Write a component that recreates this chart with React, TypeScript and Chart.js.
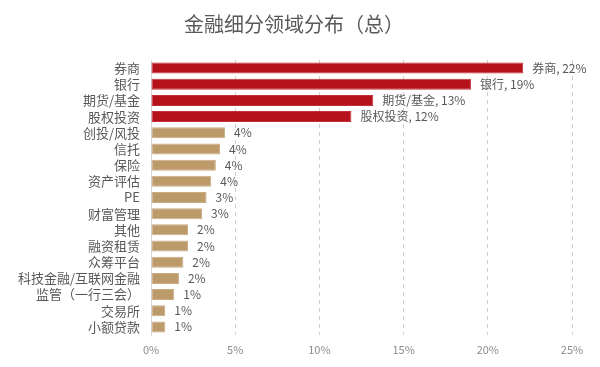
import React, { useEffect, useRef } from "react";
import { Chart, registerables } from "chart.js";

Chart.register(...registerables);

const categories = [
  "券商", "银行", "期货/基金", "股权投资", "创投/风投", "信托", "保险", "资产评估", "PE",
  "财富管理", "其他", "融资租赁", "众筹平台", "科技金融/互联网金融", "监管（一行三会）", "交易所", "小额贷款",
];
const values = [22.1, 19.0, 13.2, 11.9, 4.4, 4.1, 3.85, 3.58, 3.3, 3.03, 2.2, 2.2, 1.92, 1.66, 1.38, 0.85, 0.85];
const labelPercents = [22, 19, 13, 12, 4, 4, 4, 4, 3, 3, 2, 2, 2, 2, 1, 1, 1];
const namedLabelCount = 4;
const xTicks = [0, 5, 10, 15, 20, 25];
const titleText = "金融细分领域分布（总）";

const RED = "#B5121B";
const TAN = "#BC9A6A";
const FONT = "'Noto Sans CJK SC', 'Noto Sans', sans-serif";

export default function App() {
  const ref = useRef<HTMLCanvasElement | null>(null);
  useEffect(() => {
    document.body.style.margin = "0";
    const canvas = ref.current;
    if (!canvas) return;
    const labelPlugin = {
      id: "barLabels",
      afterDatasetsDraw(chart: any) {
        const ctx = chart.ctx;
        const meta = chart.getDatasetMeta(0);
        ctx.save();
        ctx.font = `12px ${FONT}`;
        ctx.fillStyle = "#595959";
        ctx.textAlign = "left";
        ctx.textBaseline = "middle";
        meta.data.forEach((bar: any, i: number) => {
          const txt = i < namedLabelCount ? `${categories[i]}, ${labelPercents[i]}%` : `${labelPercents[i]}%`;
          ctx.fillText(txt, bar.x + 9, bar.y);
        });
        ctx.restore();
      },
      afterDraw(chart: any) {
        const ctx = chart.ctx;
        ctx.save();
        ctx.font = `20px ${FONT}`;
        ctx.fillStyle = "#595959";
        ctx.textAlign = "center";
        ctx.textBaseline = "middle";
        ctx.fillText(titleText, 294, 24);
        ctx.restore();
      },
    };
    const chart = new Chart(canvas, {
      type: "bar",
      data: {
        labels: categories,
        datasets: [
          {
            data: values,
            backgroundColor: values.map((_, i) => (i < namedLabelCount ? RED : TAN)),
            borderColor: values.map((_, i) => (i < namedLabelCount ? "#C4303A" : "#C9AD85")),
            borderWidth: 1,
            borderSkipped: false,
            barPercentage: 0.68,
            categoryPercentage: 1,
          },
        ],
      },
      options: {
        indexAxis: "y",
        animation: false,
        responsive: false,
        maintainAspectRatio: false,
        layout: { padding: { top: 60, right: 28, bottom: 7, left: 0 } },
        plugins: {
          legend: { display: false },
          title: { display: false },
          tooltip: { enabled: false },
        },
        scales: {
          x: {
            min: 0,
            max: 25,
            afterBuildTicks(scale: any) {
              scale.ticks = xTicks.map((v) => ({ value: v }));
            },
            afterFit(scale: any) {
              scale.height = 25;
            },
            ticks: {
              padding: 8,
              color: "#8c8c8c",
              font: { family: FONT, size: 11 },
              callback: (v: any) => `${v}%`,
            },
            grid: {
              color: (ctx: any) => (ctx.tick && ctx.tick.value === 0 ? "rgba(0,0,0,0)" : "#d0d0d0"),
              drawTicks: false,
            },
            border: { display: false, dash: [4, 4] },
          },
          y: {
            afterFit(scale: any) {
              scale.width = 151;
            },
            ticks: {
              padding: 11,
              color: "#595959",
              font: { family: FONT, size: 13 },
              autoSkip: false,
            },
            grid: { display: false, drawTicks: false },
            border: { display: true, color: "#d9d9d9", width: 1 },
          },
        },
      } as any,
      plugins: [labelPlugin],
    });
    // dashed grid lines
    (chart.options.scales as any).x.grid.tickBorderDash = [4, 4];
    (chart.options.scales as any).x.border.dash = [4, 4];
    chart.update();
    return () => chart.destroy();
  }, []);
  return (
    <div style={{ width: 600, height: 367 }}>
      <canvas ref={ref} width={600} height={367} style={{ width: 600, height: 367 }} />
    </div>
  );
}
